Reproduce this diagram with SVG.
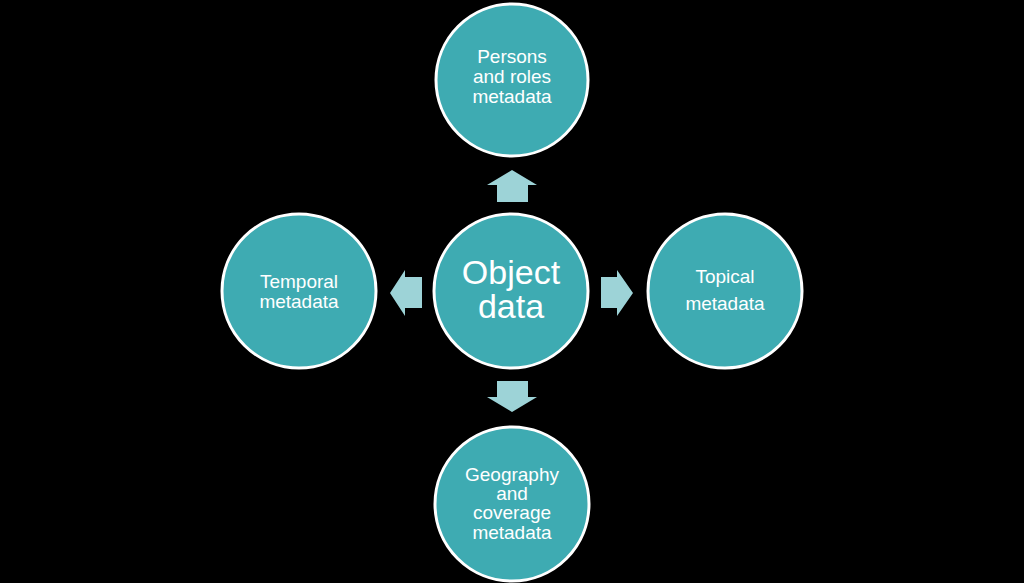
<svg xmlns="http://www.w3.org/2000/svg" width="1024" height="583" viewBox="0 0 1024 583">
<style>
.node{fill:#3eabb2;stroke:#ffffff;stroke-width:3}
.lbl{font-family:"Liberation Sans",Arial,sans-serif;font-size:19px;fill:#ffffff;text-anchor:middle}
.big{font-size:34px}
.arr{fill:#9dd3d7}
</style>
<rect width="1024" height="583" fill="#000000"/>
<g id="connectors">
<polygon class="arr" points="512,170 537,185 528,185 528,202 497,202 497,185 487,185"/>
<polygon class="arr" points="512,412 537,397 528,397 528,381 497,381 497,397 487,397"/>
<polygon class="arr" points="390,293 405,270 405,277 422,277 422,308 405,308 405,316"/>
<polygon class="arr" points="633,293 617,270 617,277 601,277 601,308 617,308 617,316"/>
</g>
<g id="center">
<circle class="node" cx="511" cy="291" r="77"/>
<text class="lbl big" x="511" y="284">Object</text>
<text class="lbl big" x="511" y="318">data</text>
</g>
<g id="persons">
<circle class="node" cx="512" cy="80" r="76"/>
<text class="lbl" x="512" y="63">Persons</text>
<text class="lbl" x="512" y="83">and roles</text>
<text class="lbl" x="512" y="103">metadata</text>
</g>
<g id="temporal">
<circle class="node" cx="299" cy="291" r="77"/>
<text class="lbl" x="299" y="288">Temporal</text>
<text class="lbl" x="299" y="308">metadata</text>
</g>
<g id="topical">
<circle class="node" cx="725" cy="291" r="77"/>
<text class="lbl" x="725" y="283">Topical</text>
<text class="lbl" x="725" y="310">metadata</text>
</g>
<g id="geography">
<circle class="node" cx="512" cy="504" r="77"/>
<text class="lbl" x="512" y="481">Geography</text>
<text class="lbl" x="512" y="500">and</text>
<text class="lbl" x="512" y="519">coverage</text>
<text class="lbl" x="512" y="539">metadata</text>
</g>
</svg>
